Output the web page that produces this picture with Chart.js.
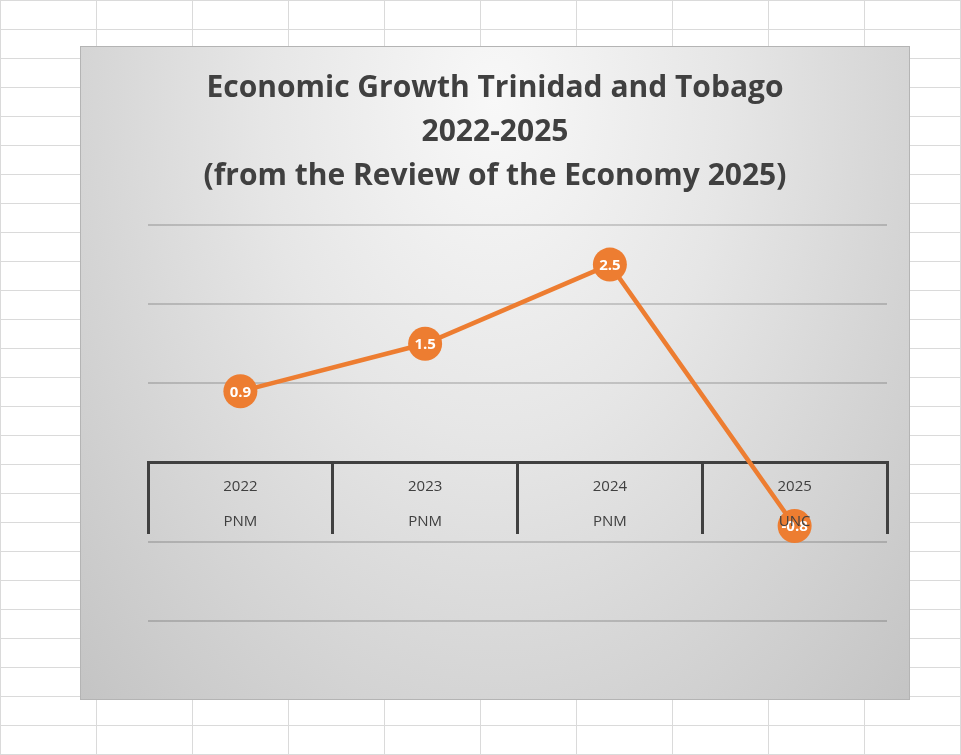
<!DOCTYPE html>
<html>
<head>
<meta charset="utf-8">
<script src="https://cdn.jsdelivr.net/npm/chart.js@4"></script>
<style>
  html, body {
    margin: 0;
    padding: 0;
    width: 961px;
    height: 755px;
    overflow: hidden;
    background-color: #fff;
    background-image:
      linear-gradient(to right, #dadada 1px, transparent 1px),
      linear-gradient(to bottom, #dadada 1px, transparent 1px);
    background-size: 96px 29px;
  }
  #box {
    position: absolute;
    left: 80px;
    top: 46px;
    width: 830px;
    height: 654px;
    box-sizing: border-box;
    border: 1px solid #b4b4b4;
    background: radial-gradient(ellipse farthest-corner at 50% 8%, #f8f8f8 0%, #e6e6e6 40%, #c4c4c4 100%);
  }
  #box canvas { display: block; }
</style>
</head>
<body>
<div id="box"><canvas id="growthChart" width="828" height="652"></canvas></div>
<script>
// -- data
var years = ['2022', '2023', '2024', '2025'];
var parties = ['PNM', 'PNM', 'PNM', 'UNC'];
var growth = [0.9, 1.5, 2.5, -0.8];
var titleLines = [
  'Economic Growth Trinidad and Tobago',
  '2022-2025',
  '(from the Review of the Economy 2025)'
];

var orange = '#ED7D31';
var darkText = '#404040';

// white value labels sitting on top of the big round markers
var valueLabels = {
  id: 'valueLabels',
  afterDatasetsDraw: function(chart) {
    var ctx = chart.ctx;
    var meta = chart.getDatasetMeta(0);
    ctx.save();
    ctx.fillStyle = '#ffffff';
    ctx.font = 'bold 15px "Open Sans"';
    ctx.textAlign = 'center';
    ctx.textBaseline = 'middle';
    meta.data.forEach(function(pt, i) {
      ctx.fillText(String(chart.data.datasets[0].data[i]), pt.x, pt.y + 1);
    });
    ctx.restore();
  }
};

var ctx = document.getElementById('growthChart');

var growthChart = new Chart(ctx, {
  type: 'line',
  data: {
    labels: years.map(function(y, i) { return [y, parties[i]]; }),
    datasets: [{
      data: growth,
      borderColor: orange,
      borderWidth: 4.5,
      backgroundColor: orange,
      pointBackgroundColor: orange,
      pointBorderWidth: 0,
      pointRadius: 17,
      pointHoverRadius: 17,
      tension: 0,
      fill: false
    }]
  },
  plugins: [valueLabels],
  options: {
    responsive: false,
    animation: false,
    events: [],
    layout: {
      padding: { left: 22, right: 22, top: 0, bottom: 78 }
    },
    plugins: {
      legend: { display: false },
      tooltip: { enabled: false },
      title: {
        display: true,
        text: titleLines,
        color: darkText,
        font: { family: '"Open Sans"', size: 30, weight: 'bold', lineHeight: 44 / 30 },
        padding: { top: 19, bottom: 27 }
      }
    },
    scales: {
      x: {
        type: 'category',
        position: { y: 0 },
        offset: true,
        grid: {
          offset: true,
          drawOnChartArea: false,
          drawTicks: true,
          tickLength: 70,
          color: darkText,
          lineWidth: 3
        },
        border: { display: true, color: darkText, width: 3 },
        ticks: {
          z: 1,
          color: darkText,
          font: { family: '"Open Sans"', size: 15, lineHeight: 35 / 15 },
          padding: -63.5,
          maxRotation: 0,
          autoSkip: false
        }
      },
      y: {
        min: -2,
        max: 3,
        afterFit: function(scale) { scale.width = 45; },
        grid: {
          color: 'rgba(0,0,0,0.16)',
          lineWidth: 2,
          drawTicks: false
        },
        border: { display: false },
        ticks: { display: false, stepSize: 1 }
      }
    }
  }
});
</script>
</body>
</html>
